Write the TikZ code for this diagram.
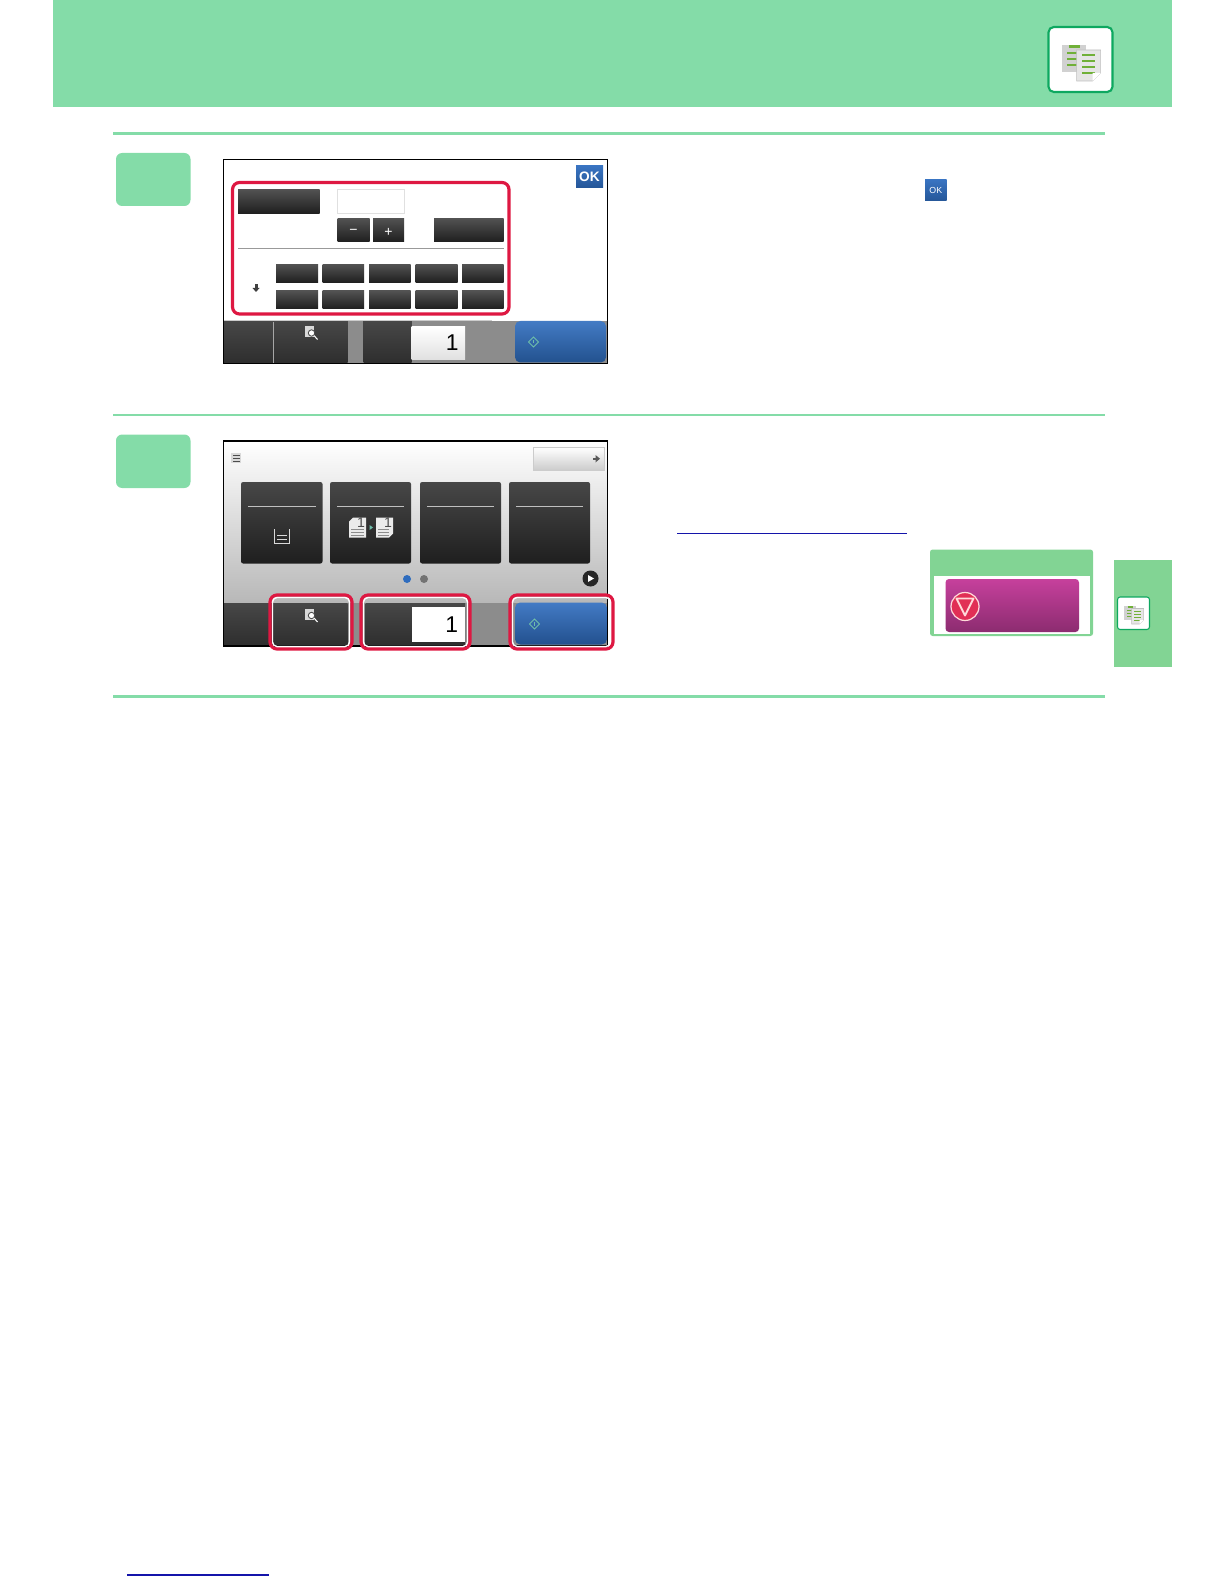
\documentclass[tikz,border=0pt]{standalone}
\usepackage{fontspec}
\setmainfont{Liberation Sans}
\definecolor{mygreen}{RGB}{132,220,168}
\definecolor{mysidegreen}{RGB}{130,212,148}
\definecolor{myedge}{RGB}{14,168,96}
\definecolor{myred}{RGB}{222,24,66}
\definecolor{myblue}{RGB}{46,108,190}
\definecolor{mylink}{RGB}{20,20,170}
\definecolor{myleaf}{RGB}{112,176,56}
\definecolor{mymark}{RGB}{110,190,170}
\definecolor{mystoptop}{RGB}{198,64,156}
\definecolor{mystopbot}{RGB}{140,44,112}
\tikzset{
  rule/.style={draw=mygreen, line width=1.6pt},
  stepbox/.style={fill=mygreen, rounded corners=3.5pt},
  darkbtn/.style={top color=black!68, bottom color=black!88},
  cardbtn/.style={top color=black!72, bottom color=black!88, rounded corners=1.2pt},
  barbtn/.style={top color=black!72, bottom color=black!82},
  bluebtn/.style={top color=myblue!90, bottom color=myblue!75!black, rounded corners=3pt},
  okbtn/.style={top color=myblue!95, bottom color=myblue!80!black},
  countbox/.style={top color=white, bottom color=black!12},
  redframe/.style={draw=myred, line width=1.8pt, rounded corners=4pt},
  halo/.style={draw=white, line width=.8pt, rounded corners=2.5pt},
  cardline/.style={draw=black!25, line width=.5pt},
  countnum/.style={font=\fontsize{13}{13}\selectfont, inner sep=0},
  signtext/.style={white, font=\footnotesize, yshift=-1pt},
  screen/.style={draw=black, line width=.9pt},
  link/.style={draw=mylink, line width=.7pt},
}
% copy icon, origin at the icon's top left, 64 units wide
\newcommand{\copyicon}[3]{%
\begin{scope}[shift={(#1,#2)}, scale=#3]
\fill[white, draw=myedge, line width=1.2pt*#3, rounded corners=3pt*#3] (0,0) rectangle (64,65);
\fill[black!18] (13,18) rectangle (37,45);
\fill[myleaf] (20,18) rectangle (31,21);
\foreach \y in {25,31,37} \fill[myleaf] (18,\y) rectangle (30,\y+2.4);
\fill[black!10, draw=black!25, line width=.3pt] (28,23) -- (52,23) -- (52,46) -- (44,54) -- (28,54) -- cycle;
\foreach \y in {27,33,39,45} \fill[myleaf] (33,\y) rectangle (46,\y+2.4);
\fill[white] (44,54) -- (52,46) -- (44,46) -- cycle;
\end{scope}}
% magnifier on a page
\newcommand{\magicon}[2]{%
\fill[black!15] (#1-6,#2-6) rectangle (#1+3,#2+5);
\draw[black!70, fill=white, line width=.5pt] (#1+.5,#2+.5) circle (3.2);
\draw[white, line width=.6pt] (#1+3,#2+3) -- (#1+6.5,#2+7);}
% start mark on the blue key
\newcommand{\startmark}[2]{%
\draw[mymark, line width=.5pt] (#1-5,#2) -- (#1,#2-5) -- (#1+5,#2) -- (#1,#2+5) -- cycle;
\draw[mymark, line width=.5pt] (#1,#2-2) -- (#1,#2+1.5);}
\begin{document}
\begin{tikzpicture}[x=0.02cm, y=-0.02cm]
\useasboundingbox (0,0) rectangle (1224,1584);
% header
\fill[mygreen] (52.5,0) rectangle (1172,107);
\copyicon{1048.5}{27}{1}
\draw[rule] (113,133.5) -- (1105,133.5);
\draw[rule] (113,415) -- (1105,415);
\draw[rule] (113,696.5) -- (1105,696.5);
\fill[stepbox] (116,153) rectangle (190.5,206);
\fill[stepbox] (116,434.5) rectangle (190.5,488);

% first screen
\fill[white] (223.5,159.5) rectangle (607.5,363.5);
\path[darkbtn] (238,189.5) rectangle (319.5,213.5);
\draw[black!12, fill=white, line width=.5pt] (337.5,189.5) rectangle (404.5,213.5);
\path[darkbtn] (337.5,218.5) rectangle (369.5,242) node[midway, signtext] (minusbtn) {−};
\path[darkbtn] (373,218.5) rectangle (404,242) node[midway, signtext] (plusbtn) {+};
\path[darkbtn] (434,218.5) rectangle (503.5,242);
\draw[black!40, line width=.6pt] (238,248.5) -- (503.5,248.5);
\foreach \x/\w in {276/42,322.5/41.5,369/41.5,415.5/42,462/41.5} {
  \path[darkbtn] (\x,264.5) rectangle (\x+\w,282.5);
  \path[darkbtn] (\x,291) rectangle (\x+\w,309);
}
\fill[black!75] (254.5,284) rectangle (257.5,288.5);
\fill[black!75] (252.5,288) -- (259.5,288) -- (256,292) -- cycle;
\path[okbtn] (576,166) rectangle (603,187.5) node[midway, white, font=\bfseries\fontsize{7.8}{8}\selectfont, inner sep=0] (okbtn) {OK};
\path[okbtn] (925,180) rectangle (946.5,201) node[midway, white, font=\fontsize{5}{5}\selectfont, inner sep=0] (oksmall) {OK};
\fill[black!45] (224,321) rectangle (607,363);
\path[barbtn] (224,321) rectangle (347.5,363);
\draw[black!35, line width=.5pt] (273.5,322) -- (273.5,363);
\path[barbtn] (363.5,321) rectangle (411.5,363);
\path[countbox] (411.5,326.5) rectangle (465,360);
\node[countnum, anchor=east] (count1) at (459,342.5) {1};
\path[bluebtn] (515,321) rectangle (606,362.5);
\startmark{533.5}{342}
\magicon{311}{332.5}
\draw[black!20, line width=.6pt] (224,320.5) -- (492,320.5);
\draw[screen] (223.5,159.5) rectangle (607.5,363.5);
\draw[redframe] (232.5,182.5) rectangle (509,314);

% second screen
\path[top color=white, bottom color=black!28] (223.5,441) rectangle (607.5,603);
\fill[black!15] (231,452.5) rectangle (241,463);
\foreach \y in {455,458,461} \draw[black!70, line width=.4pt] (233,\y) -- (240,\y);
\path[top color=white, bottom color=black!20, draw=black!20, line width=.3pt] (533,447.5) rectangle (604.5,470);
\fill[black!65] (592.5,457.5) rectangle (596,460);
\fill[black!65] (595.5,455) -- (600,458.7) -- (595.5,462.5) -- cycle;
\foreach \x/\w in {241/81.5,330/81,420/81,509/81} {
  \path[cardbtn] (\x,482) rectangle (\x+\w,563.5);
  \draw[cardline] (\x+7,506.5) -- (\x+\w-7,506.5);
}
% tray in the first card
\draw[white!85!black, line width=.5pt] (274.5,529) -- (274.5,543.5) -- (289.5,543.5) -- (289.5,529);
\draw[white!85!black, line width=.5pt] (277,535.5) -- (287,535.5) (277,539) -- (287,539);
% pages in the second card
\fill[black!8] (353,517.5) -- (366,517.5) -- (366,537.5) -- (349,537.5) -- (349,521.5) -- cycle;
\node[inner sep=0, font=\fontsize{8}{8}\selectfont, text=black!70] (pagea) at (361,522.5) {1};
\foreach \y in {529,532,535} \draw[black!45, line width=.3pt] (351,\y) -- (364,\y);
\fill[mymark] (369.5,525) -- (373,527.5) -- (369.5,530) -- cycle;
\fill[black!8] (376,517.5) -- (393,517.5) -- (393,533.5) -- (389,537.5) -- (376,537.5) -- cycle;
\node[inner sep=0, font=\fontsize{8}{8}\selectfont, text=black!70] (pageb) at (388,522.5) {1};
\foreach \y in {529,532,535} \draw[black!45, line width=.3pt] (378,\y) -- (389,\y);
\fill[myblue] (407,579) circle (4);
\fill[black!55] (424,579) circle (4);
\fill[black!85] (590.5,578.5) circle (8);
\fill[white] (588,575) -- (594,578.5) -- (588,582) -- cycle;
\fill[black!45] (224,603) rectangle (607,645);
\path[barbtn] (224,603) rectangle (347.5,645);
\path[barbtn] (365.5,603) rectangle (465,645);
\fill[white] (411.5,607) rectangle (465,641.5);
\node[countnum, anchor=east] (count2) at (458.5,624.5) {1};
\path[bluebtn] (515,602.5) rectangle (607,644.5);
\startmark{534.5}{624}
\magicon{311}{615}
\draw[screen] (223.5,441) rectangle (607.5,646);
\foreach \xa/\xb in {270/352,361/470,510/613} {
  \draw[halo] (\xa+2.5,597.5) rectangle (\xb-2.5,646.5);
  \draw[redframe] (\xa,595) rectangle (\xb,649);
}

\draw[link] (677,533.5) -- (907,533.5);
% key in the note
\fill[mysidegreen, rounded corners=1.5pt] (930,549.5) rectangle (1093,636);
\fill[white] (934,576) rectangle (1090,633.5);
\path[top color=mystoptop, bottom color=mystopbot, rounded corners=2pt] (945.5,579) rectangle (1079,632);
\draw[white!85!red, fill=myred!90, line width=.7pt] (965,606.5) circle (14);
\draw[white!85!red, line width=1.1pt, line join=round] (956.5,598.5) -- (973.5,598.5) -- (965,615.5) -- cycle;
% side tab
\fill[mysidegreen] (1113.5,560) rectangle (1172,666.5);
\copyicon{1117.5}{597}{.5}

\draw[link] (127,1575) -- (269,1575);
\end{tikzpicture}
\end{document}
